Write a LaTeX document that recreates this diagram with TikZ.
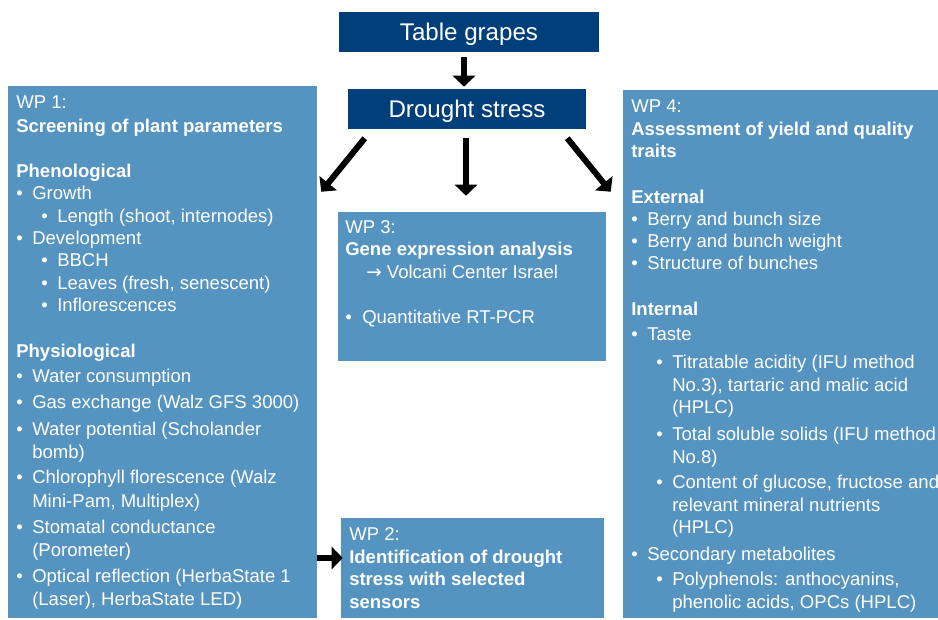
\documentclass[tikz,border=0pt]{standalone}
\usepackage{fontspec}
\setmainfont{Liberation Sans}
\newfontfamily\arrowfont{DejaVu Sans}
\usetikzlibrary{arrows.meta,fit}

\definecolor{titleblue}{RGB}{0,63,122}
\definecolor{wpblue}{RGB}{85,148,192}

\begin{document}
\begin{tikzpicture}[x=0.75pt,y=-0.75pt,
    title/.style={fill=titleblue,text=white,inner sep=0pt,minimum height=30pt,text height=13.5pt,text depth=1.5pt,font=\fontsize{18.1}{22}\selectfont},
    wp/.style={fill=wpblue,inner sep=0pt},
    txt/.style={anchor=base west,inner sep=0pt,text=white,font=\fontsize{13.9}{17}\selectfont},
    bold/.style={txt,font=\fontsize{13.9}{17}\selectfont\bfseries},
    flow/.style={line width=4.5pt,-{Triangle[width=16.5pt,length=8.25pt]}}]
  \useasboundingbox (0,0) rectangle (938,619);
  \clip (0,0) rectangle (938,619);

  % boxes
  \node[title,minimum width=195pt] (grapes) at (469,32) {Table grapes};
  \node[title,minimum width=178.5pt] (drought) at (467,109) {Drought stress};
  \node[wp,fit={(8,86) (317,618)}] (wp1) {};
  \node[wp,fit={(338,212) (606,361)}] (wp3) {};
  \node[wp,fit={(341,518) (604,618)}] (wp2) {};
  \node[wp,fit={(623,90) (940,618)}] (wp4) {};

  % arrows
  \coordinate (wp2in) at ([shift={(2,-10)}]wp2.west);
  \draw[flow] ([shift={(-5,5)}]grapes.south) -- ([shift={(-3,-2)}]drought.north);
  \draw[flow] ([shift={(17,9)}]drought.south west) -- ([shift={(4,106)}]wp1.north east);
  \draw[flow] ([shift={(-1,9)}]drought.south) -- ([shift={(-6,-16)}]wp3.north);
  \draw[flow] ([shift={(-19,9)}]drought.south east) -- ([shift={(-12,102)}]wp4.north west);
  \draw[flow] (wp1.east |- wp2in) -- (wp2in);

  % WP 1
  \node[txt] (wp1-label) at (16,108) {WP 1:};
  \foreach \y/\txt [count=\i] in {132/{Screening of plant parameters},177/{Phenological},357/{Physiological}}
    \node[bold] (wp1-h\i) at (16,\y) {\txt};
  \foreach \x/\y/\txt [count=\i] in {32/199/{Growth}, 57/222/{Length (shoot, internodes)},
      32/244/{Development}, 57/266/{BBCH}, 57/289/{Leaves (fresh, senescent)}, 57/311/{Inflorescences},
      32/382/{Water consumption}, 32/408/{Gas exchange (Walz GFS 3000)},
      32/435/{Water potential (Scholander}, 32/458/{bomb)},
      32/483/{Chlorophyll florescence (Walz}, 32/507/{Mini-Pam, Multiplex)},
      32/533/{Stomatal conductance}, 32/556/{(Porometer)},
      32/582/{Optical reflection (HerbaState 1}, 32/605/{(Laser), HerbaState LED)}}
    \node[txt] (wp1-\i) at (\x,\y) {\txt};
  \foreach \x/\y [count=\i] in {16/199,41/222,16/244,41/266,41/289,41/311,
      16/382,16/408,16/435,16/483,16/533,16/582}
    \node[txt] (wp1-b\i) at (\x,\y) {•};

  % WP 3
  \node[txt] (wp3-label) at (345,233) {WP 3:};
  \node[bold] (wp3-h1) at (345,255) {Gene expression analysis};
  \node[txt] (wp3-1) at (366,278) {{\arrowfont →} Volcani Center Israel};
  \node[txt] (wp3-b1) at (345,323) {•};
  \node[txt] (wp3-2) at (362,323) {Quantitative RT-PCR};

  % WP 2
  \node[txt] (wp2-label) at (349,540) {WP 2:};
  \foreach \y/\txt [count=\i] in {563/{Identification of drought},585/{stress with selected},608/{sensors}}
    \node[bold] (wp2-h\i) at (349,\y) {\txt};

  % WP 4
  \node[txt] (wp4-label) at (631,112) {WP 4:};
  \foreach \y/\txt [count=\i] in {135/{Assessment of yield and quality},157/{traits},203/{External},315/{Internal}}
    \node[bold] (wp4-h\i) at (631,\y) {\txt};
  \foreach \x/\y/\txt [count=\i] in {647/225/{Berry and bunch size}, 647/247/{Berry and bunch weight},
      647/269/{Structure of bunches}, 647/340/{Taste},
      672/368/{Titratable acidity (IFU method}, 672/391/{No.3), tartaric and malic acid}, 672/413/{(HPLC)},
      672/440/{Total soluble solids (IFU method}, 672/463/{No.8)},
      672/488/{Content of glucose, fructose and}, 672/511/{relevant mineral nutrients}, 672/533/{(HPLC)},
      647/560/{Secondary metabolites},
      672/585/{Polyphenols: anthocyanins,}, 672/608/{phenolic acids, OPCs (HPLC)}}
    \node[txt] (wp4-\i) at (\x,\y) {\txt};
  \foreach \x/\y [count=\i] in {631/225,631/247,631/269,631/340,656/368,656/440,656/488,631/560,656/585}
    \node[txt] (wp4-b\i) at (\x,\y) {•};
\end{tikzpicture}
\end{document}
